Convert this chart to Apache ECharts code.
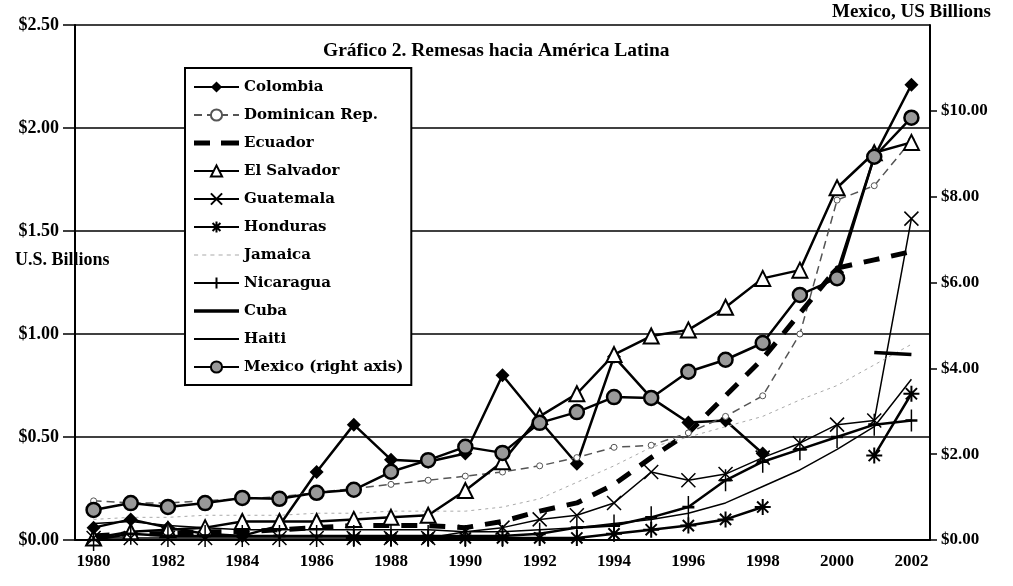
<!DOCTYPE html>
<html lang="es">
<head>
    <meta charset="UTF-8">
    <title>Remesas hacia América Latina</title>
</head>
<body style="margin:0;background:#fff">
<div id="main" style="width: 1013px;height: 586px;"></div>
<script src="https://cdn.jsdelivr.net/npm/echarts@6/dist/echarts.min.js"></script>
<script type="text/javascript">
    // years on the x axis
    var years = ['1980','1981','1982','1983','1984','1985','1986','1987','1988','1989','1990',
        '1991','1992','1993','1994','1995','1996','1997','1998','1999','2000','2001','2002'];

    // U.S. billions, left axis
    var colombia  = [0.06,0.10,0.06,0.03,0.02,0.07,0.33,0.56,0.39,0.38,0.42,0.80,0.58,0.37,0.89,0.69,0.57,0.58,0.42,null,1.30,1.86,2.21];
    var dominican = [0.19,0.18,0.18,0.19,0.20,0.21,0.23,0.25,0.27,0.29,0.31,0.33,0.36,0.40,0.45,0.46,0.52,0.60,0.70,1.00,1.65,1.72,1.94];
    var ecuador   = [0.02,0.03,0.03,0.04,0.04,0.05,0.06,0.07,0.07,0.07,0.06,0.09,0.14,0.18,0.27,0.40,0.52,0.70,0.88,1.10,1.32,1.36,1.40];
    var salvador  = [0.01,0.04,0.05,0.06,0.09,0.09,0.09,0.10,0.11,0.12,0.24,0.38,0.60,0.71,0.90,0.99,1.02,1.13,1.27,1.31,1.71,1.88,1.93];
    var guatemala = [0.01,0.01,0.01,0.01,0.01,0.01,0.01,0.01,0.01,0.01,0.04,0.06,0.10,0.12,0.18,0.33,0.29,0.32,0.40,0.47,0.56,0.58,1.56];
    var honduras  = [null,null,null,null,null,null,null,0.01,0.01,0.01,0.01,0.01,0.01,0.01,0.03,0.05,0.07,0.10,0.16,null,null,0.41,0.71];
    var jamaica   = [0.10,0.11,0.11,0.12,0.12,0.12,0.13,0.13,0.14,0.14,0.14,0.16,0.20,0.28,0.36,0.45,0.50,0.55,0.60,0.68,0.75,0.85,0.95];
    var nicaragua = [0.00,0.03,0.02,0.02,0.02,0.02,0.02,0.02,0.02,0.02,0.02,0.02,0.03,0.06,0.07,0.11,0.16,0.29,0.38,0.44,0.50,0.56,0.58];
    var cuba      = [null,null,null,null,null,null,null,null,null,null,null,null,null,null,null,null,null,null,null,null,null,0.91,0.90];
    var haiti     = [0.08,0.09,0.07,0.06,0.05,0.05,0.05,0.05,0.05,0.05,0.04,0.04,0.05,0.06,0.08,0.10,0.13,0.18,0.26,0.34,0.44,0.55,0.78];

    // U.S. billions, right axis
    var mexico    = [0.70,0.86,0.77,0.86,0.98,0.96,1.10,1.17,1.59,1.86,2.17,2.03,2.73,2.98,3.33,3.31,3.92,4.20,4.59,5.71,6.10,8.93,9.84];

    var serif = 'Liberation Serif';
    var xMark = 'path://M0,0L10,10M10,0L0,10';
    var star = 'path://M5,0L5,10M0,5L10,5M1.5,1.5L8.5,8.5M8.5,1.5L1.5,8.5';
    var plus = 'path://M5,0L5,10M0,5L10,5';
    // legend icons for the plain lines (no markers)
    var thickDash = 'path://M0,0H16V5H0ZM27,0H45V5H27Z';
    var dots = 'path://M0,0H4V1.2H0ZM8,0H12V1.2H8ZM16,0H20V1.2H16ZM24,0H28V1.2H24ZM32,0H36V1.2H32ZM40,0H44V1.2H40Z';
    var thick = 'path://M0,0H45V3.5H0Z';
    var thin = 'path://M0,0H45V1.8H0Z';

    function money(v) { return '$' + v.toFixed(2); }

    var myChart = echarts.init(document.getElementById('main'));
    var option = {
        animation: false,
        backgroundColor: '#fff',
        title: {
            text: 'Gráfico 2. Remesas hacia América Latina',
            left: 318,
            top: 36,
            textStyle: {fontFamily: serif, fontWeight: 'bold', fontSize: 19.5, color: '#000'}
        },
        legend: {
            orient: 'vertical',
            left: 185,
            top: 68,
            padding: [11, 8, 10, 8],
            itemGap: 12,
            itemWidth: 45,
            itemHeight: 14,
            backgroundColor: '#fff',
            borderColor: '#000',
            borderWidth: 2,
            borderRadius: 0,
            textStyle: {fontFamily: 'DejaVu Serif', fontWeight: 'bold', fontSize: 15, color: '#000', lineHeight: 16},
            data: [
                'Colombia', 'Dominican Rep.',
                {name: 'Ecuador', icon: thickDash},
                'El Salvador', 'Guatemala', 'Honduras',
                {name: 'Jamaica', icon: dots},
                'Nicaragua',
                {name: 'Cuba', icon: thick},
                {name: 'Haiti', icon: thin},
                'Mexico (right axis)'
            ]
        },
        graphic: [
            {type: 'text', left: 15, top: 251,
                style: {text: 'U.S. Billions', font: 'bold 18px "Liberation Serif"', fill: '#000'}},
            {type: 'text', left: 832, top: 3,
                style: {text: 'Mexico, US Billions', font: 'bold 19px "Liberation Serif"', fill: '#000'}}
        ],
        grid: {left: 75, right: 83, top: 25, bottom: 46},
        xAxis: {
            type: 'category',
            data: years,
            axisLine: {lineStyle: {color: '#000', width: 2}},
            axisTick: {interval: 0, length: 7, lineStyle: {color: '#000', width: 1.5}},
            axisLabel: {interval: 1, margin: 13, fontFamily: serif, fontWeight: 'bold', fontSize: 17, color: '#000'}
        },
        yAxis: [
            {
                type: 'value', min: 0, max: 2.5, interval: 0.5,
                axisLine: {show: true, lineStyle: {color: '#000', width: 2}},
                axisTick: {show: true, length: 12, lineStyle: {color: '#000', width: 1.5}},
                axisLabel: {formatter: money, margin: 16, fontFamily: serif, fontWeight: 'bold', fontSize: 18, color: '#000'},
                splitLine: {lineStyle: {color: '#000', width: 1.5}}
            },
            {
                type: 'value', min: 0, max: 12, interval: 2, position: 'right',
                axisLine: {show: true, lineStyle: {color: '#000', width: 2}},
                axisTick: {show: true, length: 7, lineStyle: {color: '#000', width: 1.5}},
                axisLabel: {formatter: money, showMaxLabel: false, margin: 11, fontFamily: serif, fontWeight: 'bold', fontSize: 17, color: '#000'},
                splitLine: {show: false}
            }
        ],
        series: [
            {name: 'Colombia', type: 'line', data: colombia, symbol: 'diamond', symbolSize: 14,
                lineStyle: {color: '#000', width: 2.5}, itemStyle: {color: '#000'}},
            {name: 'Dominican Rep.', type: 'line', data: dominican, symbol: 'circle', symbolSize: 6,
                lineStyle: {color: '#555', width: 1.5, type: [8, 5]},
                itemStyle: {color: '#fff', borderColor: '#555', borderWidth: 1}},
            {name: 'Ecuador', type: 'line', data: ecuador, symbol: 'none',
                lineStyle: {color: '#000', width: 5, type: [16, 12]}, itemStyle: {color: '#000'}},
            {name: 'El Salvador', type: 'line', data: salvador, symbol: 'triangle', symbolSize: 15,
                lineStyle: {color: '#000', width: 2.5},
                itemStyle: {color: '#fff', borderColor: '#000', borderWidth: 2}},
            {name: 'Guatemala', type: 'line', data: guatemala, symbol: xMark, symbolSize: 14,
                lineStyle: {color: '#000', width: 1.5},
                itemStyle: {color: '#000', borderColor: '#000', borderWidth: 1.5}},
            {name: 'Honduras', type: 'line', data: honduras, symbol: star, symbolSize: 16,
                lineStyle: {color: '#000', width: 2.5},
                itemStyle: {color: '#000', borderColor: '#000', borderWidth: 2}},
            {name: 'Jamaica', type: 'line', data: jamaica, symbol: 'none',
                lineStyle: {color: '#aaa', width: 1, type: [3, 4]}, itemStyle: {color: '#aaa'}},
            {name: 'Nicaragua', type: 'line', data: nicaragua, symbol: plus, symbolSize: [12, 22],
                lineStyle: {color: '#000', width: 2.5},
                itemStyle: {color: '#000', borderColor: '#000', borderWidth: 2}},
            {name: 'Cuba', type: 'line', data: cuba, symbol: 'none',
                lineStyle: {color: '#000', width: 3.5}, itemStyle: {color: '#000'}},
            {name: 'Haiti', type: 'line', data: haiti, symbol: 'none',
                lineStyle: {color: '#000', width: 1.5}, itemStyle: {color: '#000'}},
            {name: 'Mexico (right axis)', type: 'line', yAxisIndex: 1, data: mexico, symbol: 'circle', symbolSize: 14,
                lineStyle: {color: '#000', width: 2.5},
                itemStyle: {color: '#999', borderColor: '#000', borderWidth: 2.5}}
        ]
    };
    myChart.setOption(option);
</script>
</body>
</html>
